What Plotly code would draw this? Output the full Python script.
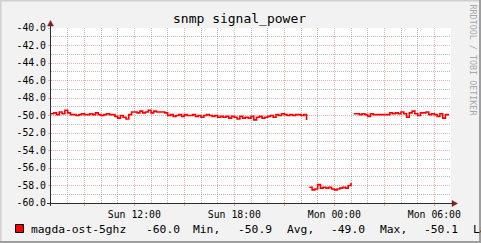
import plotly.graph_objects as go
import pandas as pd

# ---------------- data ----------------
step = "10min"
seg1_start = "2023-01-01 07:00"
seg1_values = [
    -49.8, -49.7, -49.9, -49.6, -49.8, -49.4, -49.7,
    -49.9, -49.9, -50.0, -49.9, -49.8, -49.9, -49.9, -49.8, -49.9,
    -49.7, -49.9, -50.0, -49.9, -49.8, -49.9, -49.9,
    -50.1, -50.3, -50.0, -50.2, -50.4, -49.9, -49.6, -49.6,
    -49.7, -49.5, -49.7, -49.6, -49.4, -49.7, -49.5, -49.6, -49.6, -49.6,
    -49.7, -50.0, -49.9, -50.1, -50.0, -49.9, -50.1, -49.9, -50.0, -50.0,
    -49.9, -50.1, -50.0, -50.2, -50.0, -49.9, -50.0, -50.1, -50.0, -50.2,
    -50.1, -50.2, -50.1, -50.3, -50.1, -50.2, -50.4, -50.1, -50.3, -50.2,
    -50.3, -50.1, -50.5, -50.2, -50.1, -50.3, -50.2, -50.1, -50.0, -50.2,
    -49.9, -50.0, -49.8, -49.9, -50.0, -49.9, -50.0, -49.9, -49.9, -50.0, -49.9, -50.5,
]
seg2_start = "2023-01-01 22:30"
seg2_values = [-58.2, -58.5, -58.4, -57.9, -58.3, -58.2, -58.3, -58.2,
               -58.4, -58.5, -58.4, -58.3, -58.2, -58.3, -58.0, -57.7]
seg3_start = "2023-01-02 01:10"
seg3_values = [
    -49.8, -49.8, -49.9, -49.8, -49.9, -50.1, -49.8, -49.9, -49.9, -49.9,
    -49.9, -49.9, -49.9, -49.7, -49.8, -49.7, -49.8, -49.6, -49.8, -50.2,
    -49.7, -49.5, -49.8, -50.0, -49.7, -49.7, -49.6, -49.9, -49.8, -49.9,
    -50.1, -49.8, -50.3, -49.9, -50.0,
]

x_range = ["2023-01-01 07:00", "2023-01-02 07:00"]
x_tick0 = "2023-01-01 09:00"          # major grid every 3 h, labels every 6 h
x_hidden_labels = ["Sun 09:00", "Sun 15:00", "Sun 21:00", "Mon 03:00"]
y_range = [-60, -40]
y_labels = [-60, -58, -56, -54, -52, -50, -48, -46, -44, -42, -40]

title_text = "snmp signal_power"
legend_label = "magda-ost-5ghz"
legend_items = ["-60.0", "Min,", "-50.9", "Avg,", "-49.0", "Max,", "-50.1", "La"]
watermark = "RRDTOOL / TOBI OETIKER"

# ---------------- style ----------------
W, H = 481, 243
L, R, T, B = 51, 30, 28, 40
FONT = "DejaVu Sans Mono"
MGRID = "rgba(222,80,80,0.45)"
GRID = "rgba(140,140,140,0.6)"
ARROW = "#801F1F"
AXIS = "#303030"


def px(x):
    return (x - L) / (W - L - R)


def py(y):
    return (H - B - y) / (H - T - B)


fig = go.Figure()
for start, vals in [(seg1_start, seg1_values), (seg2_start, seg2_values), (seg3_start, seg3_values)]:
    t = pd.date_range(start, periods=len(vals), freq=step)
    fig.add_trace(go.Scatter(x=t, y=vals, mode="lines", line=dict(color="#FF0000", width=1.6, shape="hv"),
                             showlegend=False, hoverinfo="skip"))

shapes = []
# 3D border
shapes.append(dict(type="line", xref="paper", yref="paper", x0=px(0), x1=px(W), y0=py(0.5), y1=py(0.5),
                   line=dict(color="#CFCFCF", width=2)))
shapes.append(dict(type="line", xref="paper", yref="paper", x0=px(0.5), x1=px(0.5), y0=py(0), y1=py(H),
                   line=dict(color="#CFCFCF", width=2)))
shapes.append(dict(type="line", xref="paper", yref="paper", x0=px(0), x1=px(W), y0=py(H - 1), y1=py(H - 1),
                   line=dict(color="#9E9E9E", width=2)))
shapes.append(dict(type="line", xref="paper", yref="paper", x0=px(W - 1), x1=px(W - 1), y0=py(0), y1=py(H),
                   line=dict(color="#9E9E9E", width=2)))
# axes
shapes.append(dict(type="line", xref="paper", yref="paper", x0=px(50.5), x1=px(50.5), y0=py(206), y1=py(24),
                   line=dict(color=AXIS, width=1)))
shapes.append(dict(type="line", xref="paper", yref="paper", x0=px(47), x1=px(453), y0=py(203.5), y1=py(203.5),
                   line=dict(color=AXIS, width=1)))
# arrows
shapes.append(dict(type="path", xref="paper", yref="paper",
                   path="M %f %f L %f %f L %f %f Z" % (px(47.5), py(26), px(53.5), py(26), px(50.5), py(20.5)),
                   fillcolor=ARROW, line=dict(color=ARROW, width=0.5)))
shapes.append(dict(type="path", xref="paper", yref="paper",
                   path="M %f %f L %f %f L %f %f Z" % (px(452), py(200.5), px(452), py(206.5), px(457.5), py(203.5)),
                   fillcolor=ARROW, line=dict(color=ARROW, width=0.5)))
# legend square
shapes.append(dict(type="rect", xref="paper", yref="paper", x0=px(15.5), x1=px(23.5), y0=py(224.5), y1=py(232.5),
                   fillcolor="#FF0000", line=dict(color="#000000", width=1)))

annotations = []
annotations.append(dict(text=title_text, xref="paper", yref="paper", x=px(239), y=py(18.5), showarrow=False,
                        xanchor="center", yanchor="middle", font=dict(family=FONT, size=13, color="#000")))
annotations.append(dict(text=watermark, xref="paper", yref="paper", x=px(472.5), y=py(60), showarrow=False,
                        textangle=90, xanchor="center", yanchor="middle",
                        font=dict(family=FONT, size=8.4, color="#A8A8A8")))
annotations.append(dict(text=legend_label, xref="paper", yref="paper", x=px(29.5), y=py(229), showarrow=False,
                        xanchor="left", yanchor="middle", borderpad=0,
                        font=dict(family=FONT, size=11.3, color="#000")))
legend_x = [145, 192, 237, 285.5, 330, 378.5, 422.5, 472]
for txt, xx in zip(legend_items, legend_x):
    annotations.append(dict(text=txt, xref="paper", yref="paper", x=px(xx), y=py(229), showarrow=False,
                            xanchor="left", yanchor="middle", borderpad=0,
                            font=dict(family=FONT, size=11.3, color="#000")))

x_alias = {lab: " " for lab in x_hidden_labels}
y_alias = {("%.1f" % v).replace("-", "\u2212"): "%.1f" % v for v in y_labels}

fig.update_layout(
    width=W, height=H,
    margin=dict(l=L, r=R, t=T, b=B),
    paper_bgcolor="#F2F2F2", plot_bgcolor="#FFFFFF",
    showlegend=False,
    shapes=shapes, annotations=annotations,
    xaxis=dict(type="date", range=x_range, tickmode="linear", tick0=x_tick0, dtick=3 * 3600000,
               tickformat="%a %H:%M", labelalias=x_alias,
               showgrid=True, gridcolor=MGRID, griddash="1px,1px", gridwidth=1,
               ticks="outside", ticklen=2, tickcolor=MGRID, showline=False, zeroline=False,
               tickfont=dict(family=FONT, size=9.8, color="#000"),
               minor=dict(dtick=3600000, showgrid=True, gridcolor=GRID,
                          griddash="1px,1px", gridwidth=1)),
    yaxis=dict(range=y_range, tickmode="linear", tick0=-60, dtick=2, tickformat=".1f", labelalias=y_alias,
               showgrid=True, gridcolor=MGRID, griddash="1px,1px", gridwidth=1,
               ticks="outside", ticklen=2, tickcolor=MGRID, showline=False, zeroline=False,
               tickfont=dict(family=FONT, size=9.8, color="#000"),
               minor=dict(dtick=1, showgrid=True, gridcolor=GRID, griddash="1px,1px", gridwidth=1)),
)

fig.write_html("out.html")
